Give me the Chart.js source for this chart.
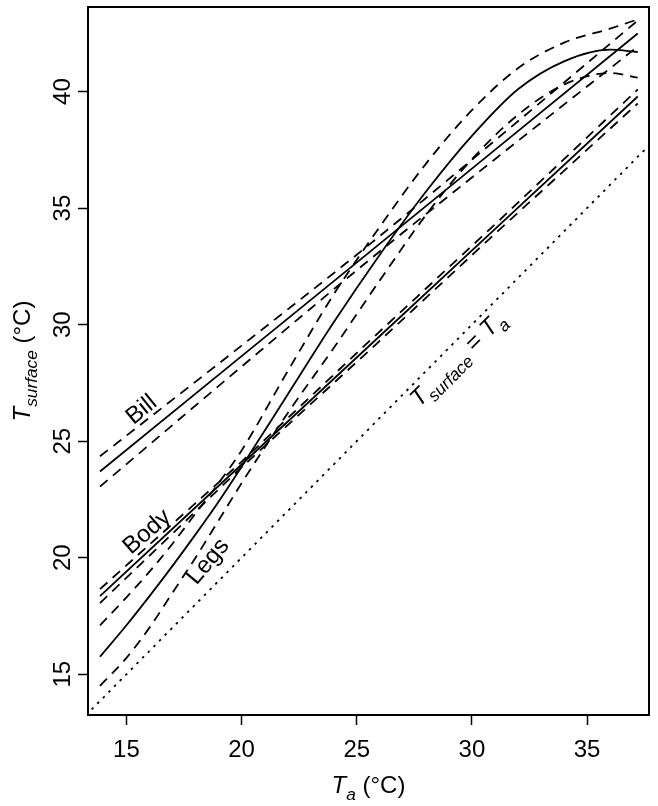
<!DOCTYPE html>
<html>
<head>
<meta charset="utf-8">
<script src="https://cdn.jsdelivr.net/npm/chart.js@4/dist/chart.umd.min.js"></script>
<style>
  html, body { margin: 0; padding: 0; background: #fff; }
  #wrap { width: 658px; height: 806px; }
</style>
</head>
<body>
<div id="wrap"><canvas id="chart" width="658" height="806"></canvas></div>
<script>
const xTicks = [15, 20, 25, 30, 35];
const yTicks = [15, 20, 25, 30, 35, 40];

// Bill: straight fit with confidence band
const billX     = [13.85, 20, 25.5, 31, 37.2];
const billMean  = [23.70, 28.65, 33.07, 37.50, 42.49];
const billUpper = [24.35, 29.10, 33.40, 37.90, 43.05];
const billLower = [23.05, 28.20, 32.74, 37.10, 41.93];

// Body: straight fit, narrow band
const bodyX     = [13.85, 20, 25.5, 31, 37.2];
const bodyMean  = [18.35, 24.00, 29.05, 34.10, 39.79];
const bodyUpper = [18.65, 24.12, 29.25, 34.30, 40.09];
const bodyLower = [18.05, 23.88, 28.85, 33.90, 39.49];

// Legs: curved fit
const legsX     = [13.85, 15, 16, 17, 18, 19, 20, 22, 24, 26, 28, 30, 32, 34, 36, 37.2];
const legsMean  = [15.75, 17.1, 18.35, 19.65, 21.0, 22.4, 23.9, 27.0, 30.1, 33.0, 35.7, 38.1, 40.1, 41.3, 41.8, 41.7];
const legsUpper = [17.1, 18.3, 19.4, 20.6, 21.9, 23.2, 24.6, 28.0, 31.3, 34.2, 36.9, 39.2, 41.0, 42.1, 42.7, 43.1];
const legsLower = [14.5, 15.7, 17.0, 18.5, 20.0, 21.6, 23.2, 26.2, 29.0, 31.9, 34.7, 37.1, 39.0, 40.3, 40.8, 40.6];

// T_surface = T_a
const identX = [13.0, 38.0];
const identY = [13.0, 38.0];

const FONT = '"Liberation Sans", Arial, Helvetica, sans-serif';
const DASH = [10, 7];
const DOT = [2.5, 5.5];

function pts(xs, ys) {
  return xs.map((v, i) => ({ x: v, y: ys[i] }));
}

function line(xs, ys, dash, smooth) {
  return {
    data: pts(xs, ys),
    showLine: true,
    borderColor: '#000',
    borderWidth: 1.8,
    borderDash: dash || [],
    pointRadius: 0,
    cubicInterpolationMode: smooth ? 'monotone' : 'default',
    tension: 0
  };
}

// draws T_sub style text; parts = [text, style] with style '', 'i' or 'is'
function richText(ctx, parts, cx, cy, angle, size) {
  const fontOf = st => (st.startsWith('i') ? 'italic ' : '') + (st === 'is' ? size * 0.72 : size) + 'px ' + FONT;
  let total = 0;
  parts.forEach(p => { ctx.font = fontOf(p[1]); total += ctx.measureText(p[0]).width; });
  ctx.save();
  ctx.translate(cx, cy);
  ctx.rotate(angle);
  ctx.textAlign = 'left';
  ctx.textBaseline = 'alphabetic';
  let xpos = -total / 2;
  parts.forEach(p => {
    ctx.font = fontOf(p[1]);
    const dy = p[1] === 'is' ? size * 0.3 : 0;
    ctx.fillText(p[0], xpos, dy);
    xpos += ctx.measureText(p[0]).width;
  });
  ctx.restore();
}

function labelAt(ctx, text, cx, cy, angle, size) {
  ctx.save();
  ctx.translate(cx, cy);
  ctx.rotate(angle);
  ctx.font = size + 'px ' + FONT;
  ctx.textAlign = 'center';
  ctx.textBaseline = 'middle';
  ctx.fillText(text, 0, 0);
  ctx.restore();
}

const annotate = {
  id: 'annotate',
  afterDraw(chart) {
    const { ctx, chartArea: a, scales: { x, y } } = chart;
    ctx.save();
    ctx.strokeStyle = '#000';
    ctx.lineWidth = 2;
    ctx.strokeRect(a.left, a.top, a.right - a.left, a.bottom - a.top);

    ctx.fillStyle = '#000';
    ctx.font = '24px ' + FONT;
    ctx.textAlign = 'center';
    ctx.textBaseline = 'alphabetic';
    xTicks.forEach(v => ctx.fillText(String(v), x.getPixelForValue(v), 757));
    yTicks.forEach(v => {
      ctx.save();
      ctx.translate(70, y.getPixelForValue(v));
      ctx.rotate(-Math.PI / 2);
      ctx.fillText(String(v), 0, 0);
      ctx.restore();
    });

    // axis titles
    richText(ctx, [['T', 'i'], ['a', 'is'], [' (°C)', '']], (a.left + a.right) / 2, 793, 0, 24);
    richText(ctx, [['T', 'i'], ['surface', 'is'], [' (°C)', '']], 30, (a.top + a.bottom) / 2, -Math.PI / 2, 24);

    // curve labels
    labelAt(ctx, 'Bill', x.getPixelForValue(15.66), y.getPixelForValue(26.34), -39 * Math.PI / 180, 24);
    labelAt(ctx, 'Body', x.getPixelForValue(15.9), y.getPixelForValue(21.1), -41 * Math.PI / 180, 24);
    labelAt(ctx, 'Legs', x.getPixelForValue(18.55), y.getPixelForValue(19.83), -50 * Math.PI / 180, 24);
    richText(ctx, [['T', 'i'], ['surface', 'is'], [' = ', ''], ['T', 'i'], ['a', 'is']],
      x.getPixelForValue(29.6), y.getPixelForValue(28.3), -45 * Math.PI / 180, 24);
    ctx.restore();
  }
};

const axisGrid = {
  drawOnChartArea: false,
  drawTicks: true,
  tickLength: 10,
  tickColor: '#000',
  tickWidth: 1.5,
  color: '#000'
};

const chart = new Chart(document.getElementById('chart'), {
  type: 'scatter',
  data: {
    datasets: [
      line(identX, identY, DOT, false),
      line(billX, billUpper, DASH, true),
      line(billX, billLower, DASH, true),
      line(billX, billMean, [], false),
      line(bodyX, bodyUpper, DASH, false),
      line(bodyX, bodyLower, DASH, false),
      line(bodyX, bodyMean, [], false),
      line(legsX, legsUpper, DASH, true),
      line(legsX, legsLower, DASH, true),
      line(legsX, legsMean, [], true)
    ]
  },
  options: {
    responsive: false,
    animation: false,
    layout: { padding: { top: 7, right: 9, left: 0, bottom: 0 } },
    plugins: {
      legend: { display: false },
      tooltip: { enabled: false }
    },
    scales: {
      x: {
        type: 'linear',
        min: 13.33,
        max: 37.69,
        afterBuildTicks: s => { s.ticks = xTicks.map(v => ({ value: v })); },
        afterFit: s => { s.height = 91; },
        ticks: { display: false },
        grid: axisGrid,
        border: { display: false }
      },
      y: {
        type: 'linear',
        min: 13.25,
        max: 43.63,
        afterBuildTicks: s => { s.ticks = yTicks.map(v => ({ value: v })); },
        afterFit: s => { s.width = 88; },
        ticks: { display: false },
        grid: axisGrid,
        border: { display: false }
      }
    }
  },
  plugins: [annotate]
});
</script>
</body>
</html>
